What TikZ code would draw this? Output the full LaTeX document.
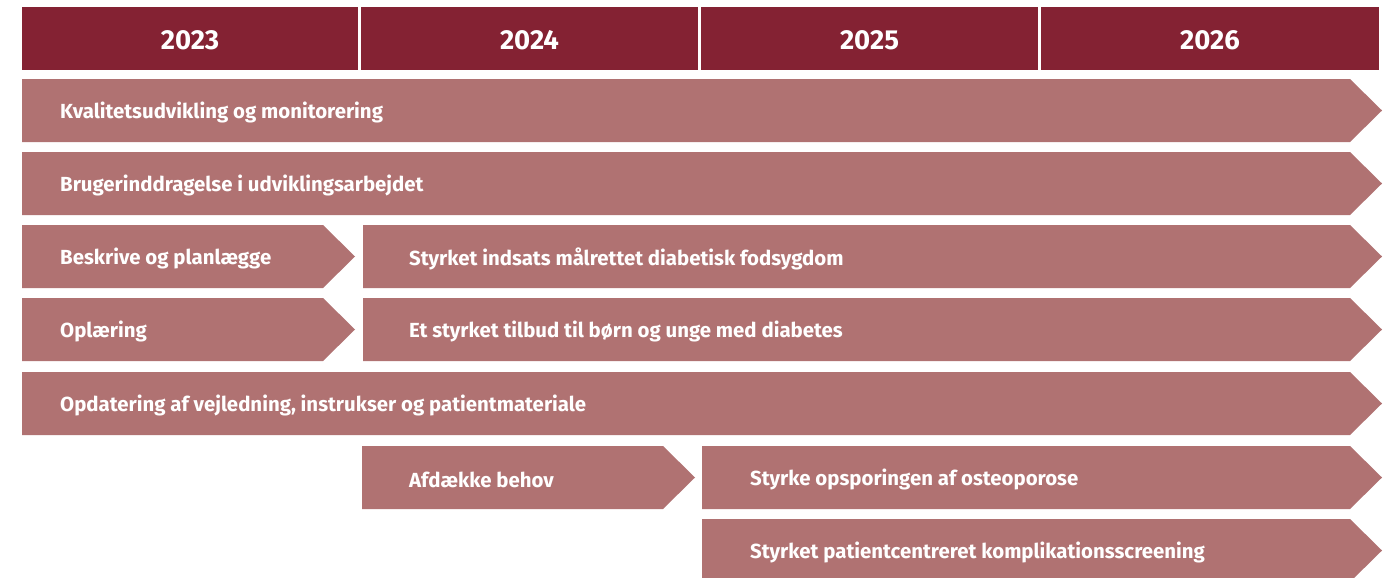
\documentclass[tikz,border=0pt]{standalone}
\usepackage{fontspec}
\setmainfont{Fira Sans}

\definecolor{yearred}{RGB}{132,34,51}
\definecolor{barrose}{RGB}{176,114,114}

\tikzset{
  year/.style={fill=yearred},
  yeartext/.style={text=white,inner sep=0pt,font=\fontsize{27.5}{32}\selectfont\bfseries},
  bar/.style={fill=barrose},
  bartext/.style={anchor=west,text=white,inner sep=0pt,font=\fontsize{20.4}{24}\selectfont\bfseries},
}

\begin{document}
\begin{tikzpicture}[x=1pt,y=-1pt]
  \useasboundingbox (0,0) rectangle (1397,578);

  % years
  \foreach \yr/\xa/\xb in {2023/22/358,2024/361/698,2025/701/1038,2026/1041/1379}{
    \fill[year] (\xa,7) rectangle (\xb,70);
    \node[yeartext] (y\yr) at ({(\xa+\xb)/2},40) {\yr};
  }

  % bars
  \foreach \xa/\xb/\yt/\tx/\nm/\lbl in {
      22/1382/79/60/kval/{Kvalitetsudvikling og monitorering},
      22/1382/152/60/bruger/{Brugerinddragelse i udviklingsarbejdet},
      22/355/225/60/beskriv/{Beskrive og planlægge},
      363/1382/225/409/fod/{Styrket indsats målrettet diabetisk fodsygdom},
      22/355/298/60/oplaer/{Oplæring},
      363/1382/298/409/boern/{Et styrket tilbud til børn og unge med diabetes},
      22/1382/372/60/opdat/{Opdatering af vejledning, instrukser og patientmateriale},
      362/695/446/409/behov/{Afdække behov},
      702/1382/446/750/osteo/{Styrke opsporingen af osteoporose},
      702/1382/519/750/screen/{Styrket patientcentreret komplikationsscreening}}{
    \fill[bar] (\xa,\yt) -- (\xb-32,\yt) -- (\xb,\yt+31.5)
      -- (\xb-32,\yt+63) -- (\xa,\yt+63) -- cycle;
    \node[bartext] (\nm) at (\tx,\yt+33.5) {\lbl};
  }
\end{tikzpicture}
\end{document}
